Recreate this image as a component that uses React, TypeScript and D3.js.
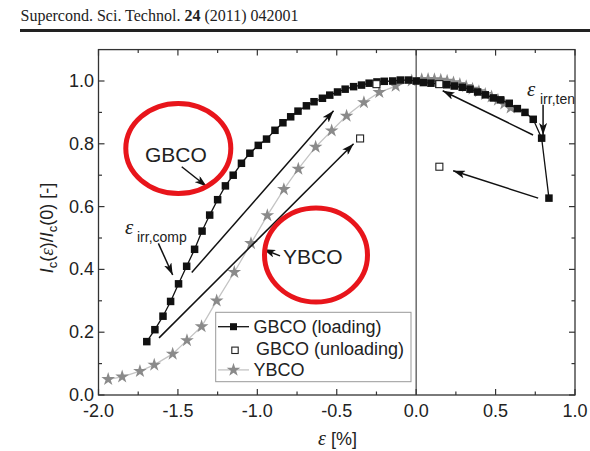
import React from "react";
import * as d3 from "d3";

// ---- data ----
const gbcoLoadX = [-1.696, -1.645, -1.594, -1.546, -1.496, -1.445, -1.395, -1.348, -1.3, -1.25, -1.201, -1.152, -1.1, -1.047, -0.994, -0.942, -0.889, -0.839, -0.79, -0.744, -0.691, -0.643, -0.59, -0.544, -0.495, -0.447, -0.394, -0.344, -0.296, -0.247, -0.201, -0.148, -0.1, -0.05, 0.0, 0.045, 0.093, 0.143, 0.192, 0.24, 0.29, 0.339, 0.387, 0.435, 0.486, 0.532, 0.586, 0.637, 0.685, 0.737, 0.79, 0.836];
const gbcoLoadY = [0.17, 0.208, 0.251, 0.298, 0.354, 0.41, 0.464, 0.522, 0.573, 0.622, 0.666, 0.7, 0.738, 0.77, 0.795, 0.815, 0.843, 0.867, 0.886, 0.904, 0.921, 0.934, 0.945, 0.955, 0.965, 0.974, 0.982, 0.987, 0.993, 0.997, 0.999, 1.0, 1.003, 1.003, 1.0, 0.995, 0.993, 0.99, 0.988, 0.984, 0.98, 0.974, 0.965, 0.956, 0.946, 0.94, 0.929, 0.912, 0.9, 0.878, 0.818, 0.627];
const gbcoUnloadX = [-0.353, -0.25, 0.146, 0.146];
const gbcoUnloadY = [0.817, 0.99, 0.99, 0.727];
const ybcoX = [-1.939, -1.851, -1.739, -1.649, -1.533, -1.443, -1.351, -1.256, -1.145, -1.04, -0.937, -0.833, -0.742, -0.633, -0.532, -0.438, -0.329, -0.232, -0.129, -0.028, 0.035, 0.075, 0.115, 0.155, 0.195, 0.235, 0.275, 0.315, 0.355, 0.395, 0.435, 0.475, 0.515, 0.555, 0.595];
const ybcoY = [0.05, 0.058, 0.076, 0.096, 0.131, 0.174, 0.218, 0.3, 0.391, 0.483, 0.572, 0.655, 0.72, 0.79, 0.842, 0.889, 0.932, 0.964, 0.984, 1.001, 1.005, 1.006, 1.005, 1.003, 1.0, 0.995, 0.99, 0.983, 0.975, 0.967, 0.958, 0.95, 0.94, 0.928, 0.915];
const xTicks = [-2.0, -1.5, -1.0, -0.5, 0.0, 0.5, 1.0];
const xMinor = [-1.75, -1.25, -0.75, -0.25, 0.25, 0.75];
const yTicks = [0.0, 0.2, 0.4, 0.6, 0.8, 1.0];
const yMinor = [0.1, 0.3, 0.5, 0.7, 0.9];
const legendLabels = ["GBCO (loading)", "GBCO (unloading)", "YBCO"];
// annotation arrows in data units: [x1, y1, x2, y2]
const arrows = [
  [-1.413, 0.39, -0.52, 0.905],
  [-1.619, 0.182, -0.394, 0.8],
  [0.736, 0.828, 0.167, 0.969],
  [0.768, 0.627, 0.233, 0.714],
  [-1.476, 0.727, -1.319, 0.664],
  [-0.857, 0.443, -0.962, 0.464],
  [-1.623, 0.483, -1.533, 0.382],
  [0.799, 0.924, 0.799, 0.828],
];

const W = 590, H = 451;
const L = 98.5, R = 575, T = 49.6, B = 395;
const sans = "'Liberation Sans', Arial, sans-serif";
const serif = "'Liberation Serif', 'Times New Roman', serif";

export default function App() {
  const x = d3.scaleLinear().domain([-2, 1]).range([L, R]);
  const y = d3.scaleLinear().domain([0, 1.1]).range([B, T]);
  const loadPts = gbcoLoadX.map((v, i) => [x(v), y(gbcoLoadY[i])] as [number, number]);
  const ybcoPts = ybcoX.map((v, i) => [x(v), y(ybcoY[i])] as [number, number]);
  const line = d3.line();
  const star = d3.symbol().type(d3.symbolStar).size(58)();
  const sq = 7.5;
  const axisCol = "#333";
  const tickCol = "#333";

  return (
    <div style={{ position: "absolute", left: 0, top: 0 }}>
      <svg width={W} height={H} style={{ display: "block", background: "#fff" }}>
        <defs>
          <marker id="ah" viewBox="0 0 12 8" refX="12" refY="4" markerWidth="12" markerHeight="8" markerUnits="userSpaceOnUse" orient="auto">
            <path d="M0,0 L12,4 L0,8 L3,4 z" fill="#111" />
          </marker>
        </defs>
        {/* header */}
        <text x={20.5} y={20.5} fontFamily={serif} fontSize={16} fill="#222">
          Supercond. Sci. Technol. <tspan fontWeight="bold">24</tspan> (2011) 042001
        </text>
        <rect x={20} y={29} width={570} height={3} fill="#222" />

        {/* frame */}
        <rect x={L} y={T} width={R - L} height={B - T} fill="none" stroke={axisCol} strokeWidth={1.3} />
        <line x1={x(0)} x2={x(0)} y1={T} y2={B} stroke="#555" strokeWidth={1.3} />

        {/* ticks */}
        {xTicks.map((t) => (
          <g key={"xt" + t}>
            <line x1={x(t)} x2={x(t)} y1={B} y2={B - 6} stroke={tickCol} strokeWidth={1.2} />
            <line x1={x(t)} x2={x(t)} y1={T} y2={T + 6} stroke={tickCol} strokeWidth={1.2} />
            <text x={x(t)} y={417} textAnchor="middle" fontFamily={sans} fontSize={18} fill="#222">
              {t.toFixed(1)}
            </text>
          </g>
        ))}
        {xMinor.map((t) => (
          <g key={"xm" + t}>
            <line x1={x(t)} x2={x(t)} y1={B} y2={B - 3.5} stroke={tickCol} strokeWidth={1.2} />
            <line x1={x(t)} x2={x(t)} y1={T} y2={T + 3.5} stroke={tickCol} strokeWidth={1.2} />
          </g>
        ))}
        {yTicks.map((t) => (
          <g key={"yt" + t}>
            <line x1={L} x2={L + 6} y1={y(t)} y2={y(t)} stroke={tickCol} strokeWidth={1.2} />
            <line x1={R} x2={R - 6} y1={y(t)} y2={y(t)} stroke={tickCol} strokeWidth={1.2} />
            <text x={94} y={y(t) + 6} textAnchor="end" fontFamily={sans} fontSize={18} fill="#222">
              {t.toFixed(1)}
            </text>
          </g>
        ))}
        {yMinor.map((t) => (
          <g key={"ym" + t}>
            <line x1={L} x2={L + 3.5} y1={y(t)} y2={y(t)} stroke={tickCol} strokeWidth={1.2} />
            <line x1={R} x2={R - 3.5} y1={y(t)} y2={y(t)} stroke={tickCol} strokeWidth={1.2} />
          </g>
        ))}

        {/* axis labels */}
        <text x={318} y={445} fontFamily={sans} fontSize={18} fill="#222">
          <tspan fontFamily={serif} fontStyle="italic" fontSize={20}>ε</tspan> [%]
        </text>
        <text transform="translate(53,228) rotate(-90)" textAnchor="middle" fontFamily={sans} fontSize={18} fill="#222">
          <tspan fontStyle="italic">I</tspan>
          <tspan fontSize={13} dy={4}>c</tspan>
          <tspan dy={-4}>(</tspan>
          <tspan fontFamily={serif} fontStyle="italic" fontSize={19}>ε</tspan>
          <tspan>)/</tspan>
          <tspan fontStyle="italic">I</tspan>
          <tspan fontSize={13} dy={4}>c</tspan>
          <tspan dy={-4}>(0) [-]</tspan>
        </text>

        {/* YBCO */}
        <path d={line(ybcoPts) || ""} fill="none" stroke="#c4c4c4" strokeWidth={1.3} />
        {ybcoPts.map((p, i) => (
          <path key={"s" + i} d={star || ""} transform={`translate(${p[0]},${p[1]})`} fill="#8a8a8a" />
        ))}

        {/* GBCO loading */}
        <path d={line(loadPts) || ""} fill="none" stroke="#111" strokeWidth={1.3} />
        {loadPts.map((p, i) => (
          <rect key={"l" + i} x={p[0] - sq / 2} y={p[1] - sq / 2} width={sq} height={sq} fill="#111" />
        ))}
        {/* GBCO unloading */}
        {gbcoUnloadX.map((v, i) => (
          <rect key={"u" + i} x={x(v) - 3.5} y={y(gbcoUnloadY[i]) - 3.5} width={7} height={7} fill="#fff" stroke="#222" strokeWidth={1.1} />
        ))}

        {/* annotation arrows */}
        {arrows.map((a, i) => (
          <line key={"a" + i} x1={x(a[0])} y1={y(a[1])} x2={x(a[2])} y2={y(a[3])} stroke="#111" strokeWidth={1.5} markerEnd="url(#ah)" />
        ))}

        {/* epsilon labels */}
        <text x={125} y={234} fontFamily={serif} fontStyle="italic" fontSize={21} fill="#222">ε</text>
        <text x={137} y={242} fontFamily={sans} fontSize={14} fill="#222">irr,comp</text>
        <text x={527} y={96} fontFamily={serif} fontStyle="italic" fontSize={21} fill="#222">ε</text>
        <text x={540} y={104} fontFamily={sans} fontSize={14} fill="#222">irr,ten</text>

        {/* legend */}
        <rect x={215.7} y={312.3} width={195.3} height={69.4} fill="#fff" stroke="#999" strokeWidth={1} />
        {legendLabels.map((lab, i) => {
          const cy = 326.7 + i * 21.6;
          return (
            <g key={"lg" + i}>
              {i === 0 && <line x1={218} x2={249} y1={cy} y2={cy} stroke="#111" strokeWidth={1.3} />}
              {i === 0 && <rect x={233.5 - 3.5} y={cy - 3.5} width={7} height={7} fill="#111" />}
              {i === 1 && <rect x={235 - 3.2} y={cy + 2 - 3.2} width={6.4} height={6.4} fill="#fff" stroke="#222" strokeWidth={1.1} />}
              {i === 2 && <line x1={218} x2={249} y1={cy} y2={cy} stroke="#c4c4c4" strokeWidth={1.3} />}
              {i === 2 && <path d={star || ""} transform={`translate(233.5,${cy})`} fill="#8a8a8a" />}
              <text x={i === 1 ? 256 : 253.5} y={cy + 6.5} fontFamily={sans} fontSize={18} fill="#222">{lab}</text>
            </g>
          );
        })}

        {/* red ellipses and labels */}
        <ellipse cx={178.3} cy={148.5} rx={52.5} ry={45} fill="none" stroke="#e8151b" strokeWidth={5} />
        <text x={145} y={162} fontFamily={sans} fontSize={21} fill="#222">GBCO</text>
        <ellipse cx={316} cy={255} rx={51.5} ry={47} fill="none" stroke="#e8151b" strokeWidth={5} />
        <text x={283} y={263.5} fontFamily={sans} fontSize={21} fill="#222">YBCO</text>
      </svg>
    </div>
  );
}
